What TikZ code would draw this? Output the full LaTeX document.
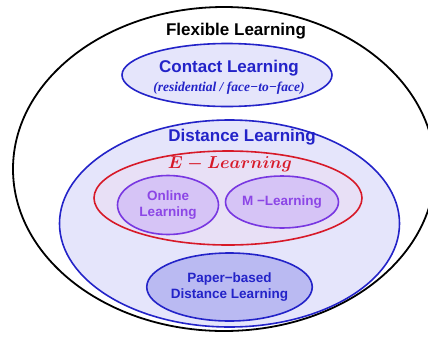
\documentclass[tikz,border=0pt]{standalone}
\usepackage{fontspec}
\setsansfont{Liberation Sans}
\setmainfont{Liberation Serif}
\usetikzlibrary{shapes.geometric}
\definecolor{dlblue}{RGB}{35,35,200}
\definecolor{elred}{RGB}{215,25,40}
\definecolor{olpurple}{RGB}{120,55,225}
\definecolor{oltext}{RGB}{140,70,230}
\definecolor{paleblue}{RGB}{229,229,251}
\definecolor{palepink}{RGB}{232,224,246}
\definecolor{lilac}{RGB}{214,196,246}
\definecolor{paperfill}{RGB}{186,186,242}
\begin{document}
\begin{tikzpicture}[x=1pt,y=-1pt,
  region/.style={ellipse,inner sep=0pt,line width=1.6pt},
  bigtext/.style={font=\sffamily\bfseries\fontsize{17}{19}\selectfont},
  smalltext/.style={font=\sffamily\bfseries\fontsize{13.5}{15.5}\selectfont,align=center}]
  \useasboundingbox (0,0) rectangle (428,338);
  \clip (0,0) rectangle (428,338);
  \node[region,draw=black,line width=1.8pt,minimum width=422pt,minimum height=324pt] (flex) at (224,169) {};
  \node[bigtext] (flextext) at (236,31) {Flexible Learning};
  \node[region,draw=dlblue,fill=paleblue,minimum width=210pt,minimum height=63pt] (contact) at (227,75) {};
  \node[bigtext,text=dlblue] (contacttext) at (229,68) {Contact Learning};
  \node[text=dlblue,font=\bfseries\itshape\fontsize{13.5}{15}\selectfont] (contactsub) at (229,88) {(residential / face−to−face)};
  \node[region,draw=dlblue,fill=paleblue,minimum width=340pt,minimum height=207pt] (distance) at (229.5,223.5) {};
  \node[bigtext,text=dlblue] (distancetext) at (242,137) {Distance Learning};
  \node[region,draw=elred,fill=palepink,minimum width=268pt,minimum height=94pt] (elearn) at (228,198) {};
  \node[text=elred,font=\fontsize{18}{20}\selectfont\boldmath] (elearntext) at (230,164) {$E-Learning$};
  \node[region,draw=olpurple,fill=lilac,minimum width=101pt,minimum height=59pt,smalltext,text=oltext] (online) at (168,205) {Online\\Learning};
  \node[region,draw=olpurple,fill=lilac,minimum width=110pt,minimum height=52pt,smalltext,text=oltext] (mlearn) at (282,202) {M −Learning};
  \node[region,draw=dlblue,fill=paperfill,minimum width=165pt,minimum height=68pt,smalltext,text=dlblue] (paper) at (229.5,287) {Paper−based\\Distance Learning};
\end{tikzpicture}
\end{document}
